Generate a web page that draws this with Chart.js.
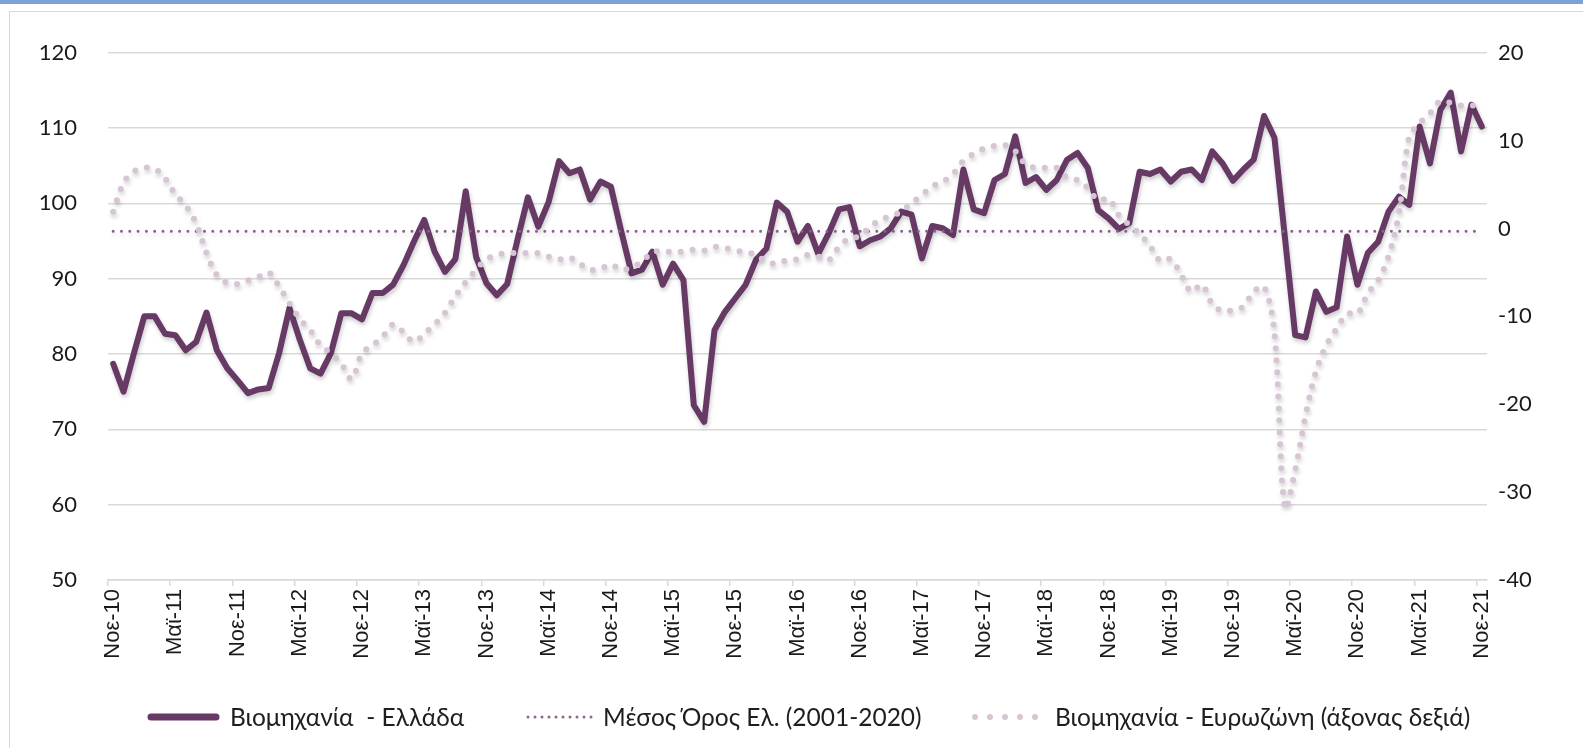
<!DOCTYPE html>
<html lang="el">
<head>
<meta charset="utf-8">
<title>Βιομηχανία - Ελλάδα / Ευρωζώνη</title>
<script src="https://cdn.jsdelivr.net/npm/chart.js@4.4.1/dist/chart.umd.min.js"></script>
<style>
  html, body { margin: 0; padding: 0; background: #fff; overflow: hidden; }
  body { width: 1583px; height: 748px; position: relative; }
  .band { position: absolute; left: 0; top: 0; width: 1583px; height: 4px; background: #7ea1dc; }
  .frame { position: absolute; left: 9px; top: 11px; width: 1600px; height: 760px;
           border: 1.5px solid #d9d9d9; box-sizing: border-box; }
  #chart { position: absolute; left: 0; top: 0; }
  .lg-sample { position: absolute; top: 711px; }
  .lg-text { position: absolute; top: 702px; font-family: Lato, "Open Sans", sans-serif;
             font-size: 24.5px; line-height: 30px; color: #1e1e1e; white-space: pre; }
</style>
</head>
<body>
<div class="band"></div>
<div class="frame"></div>
<canvas id="chart" width="1583" height="748"></canvas>

<svg class="lg-sample" style="left:146px" width="76" height="12">
  <line x1="5" y1="6" x2="70" y2="6" stroke="#673965" stroke-width="7" stroke-linecap="round"/>
</svg>
<div class="lg-text" style="left:230px">Βιομηχανία  - Ελλάδα</div>

<svg class="lg-sample" style="left:524px" width="76" height="12">
  <line x1="4" y1="6" x2="72" y2="6" stroke="#8a6a8a" stroke-width="3" stroke-linecap="round" stroke-dasharray="0 7"/>
</svg>
<div class="lg-text" style="left:603px">Μέσος Όρος Ελ. (2001-2020)</div>

<svg class="lg-sample" style="left:970px" width="72" height="12">
  <line x1="5" y1="6" x2="66" y2="6" stroke="#d6c5d4" stroke-width="6" stroke-linecap="round" stroke-dasharray="0 15"/>
</svg>
<div class="lg-text" style="left:1055px">Βιομηχανία - Ευρωζώνη (άξονας δεξιά)</div>

<script>
// Μήνες (Νοε-10 έως Νοε-21, μηνιαία)
const MONTH_NAMES = ["Ιαν", "Φεβ", "Μαρ", "Απρ", "Μαϊ", "Ιουν", "Ιουλ", "Αυγ", "Σεπ", "Οκτ", "Νοε", "Δεκ"];
const FIRST_MONTH = 10; // Νοέμβριος
const FIRST_YEAR = 10;  // 2010
const N_MONTHS = 133;

// Βιομηχανία - Ελλάδα (αριστερός άξονας)
const greece = [
  78.7, 75.0, 80.1, 85.0, 85.0, 82.7, 82.5, 80.5, 81.6, 85.5,
  80.5, 78.1, 76.5, 74.8, 75.3, 75.5, 80.1, 86.1, 81.9, 78.1,
  77.4, 80.1, 85.4, 85.4, 84.6, 88.1, 88.1, 89.2, 91.8, 94.9,
  97.8, 93.6, 90.9, 92.6, 101.6, 92.9, 89.4, 87.8, 89.3, 95.2,
  100.8, 96.9, 100.2, 105.6, 104.0, 104.5, 100.5, 102.9, 102.2, 96.3,
  90.7, 91.2, 93.6, 89.2, 92.0, 89.8, 73.2, 71.0, 83.2, 85.6,
  87.4, 89.2, 92.5, 94.0, 100.1, 98.9, 94.9, 97.0, 93.3, 96.0,
  99.2, 99.5, 94.3, 95.1, 95.6, 96.7, 98.9, 98.5, 92.7, 97.0,
  96.7, 95.8, 104.5, 99.2, 98.7, 103.1, 103.9, 108.9, 102.7, 103.5,
  101.8, 103.1, 105.8, 106.7, 104.7, 99.1, 98.0, 96.6, 97.4, 104.2,
  103.9, 104.5, 102.9, 104.2, 104.5, 103.1, 106.9, 105.3, 103.0, 104.5,
  105.8, 111.6, 108.7, 95.6, 82.5, 82.2, 88.3, 85.6, 86.2, 95.6,
  89.2, 93.4, 94.9, 98.9, 100.9, 99.8, 110.2, 105.3, 112.4, 114.7,
  106.9, 113.1, 110.2
];

// Μέσος Όρος Ελ. (2001-2020)
const greeceMean = 96.3;

// Βιομηχανία - Ευρωζώνη (δεξιός άξονας)
const eurozone = [
  1.9, 5.2, 6.5, 6.9, 6.8, 5.7, 3.9, 2.6, 0.6, -2.8,
  -5.3, -6.2, -6.3, -5.9, -5.5, -5.0, -6.6, -8.5, -10.3, -11.6,
  -13.3, -14.2, -15.4, -17.1, -14.2, -13.3, -12.3, -10.9, -11.8, -12.9,
  -12.0, -10.9, -9.6, -7.7, -6.1, -4.7, -3.5, -3.0, -2.8, -2.8,
  -2.8, -2.8, -3.2, -3.5, -3.3, -4.0, -4.7, -4.6, -4.1, -4.7,
  -4.4, -3.8, -2.7, -2.6, -2.7, -2.6, -2.4, -2.5, -2.1, -2.2,
  -2.5, -2.7, -3.0, -3.8, -4.0, -3.6, -3.5, -3.0, -3.2, -3.6,
  -2.1, -1.1, -0.9, 0.2, 1.0, 1.4, 1.9, 2.9, 3.8, 4.8,
  5.3, 6.2, 7.7, 8.5, 9.1, 9.4, 9.5, 8.8, 7.3, 6.9,
  6.9, 6.9, 5.8, 5.5, 4.6, 3.2, 3.4, 1.5, 0.4, -0.6,
  -2.0, -3.7, -3.5, -5.3, -7.2, -6.4, -8.6, -9.4, -9.3, -8.9,
  -7.2, -6.6, -11.9, -31.8, -27.5, -21.3, -16.3, -13.3, -11.4, -9.7,
  -9.7, -7.4, -5.9, -3.2, 1.7, 10.4, 12.0, 13.1, 14.5, 14.3,
  14.0, 14.0, 13.9
];

// Άξονες
const LEFT_MIN = 50, LEFT_MAX = 120;
const RIGHT_MIN = -40, RIGHT_MAX = 20;
const LABEL_EVERY = 6;

const labels = [];
for (let i = 0; i < N_MONTHS; i++) {
  const m = (FIRST_MONTH + i) % 12;
  const y = FIRST_YEAR + Math.floor((FIRST_MONTH + i) / 12);
  labels.push(MONTH_NAMES[m] + "-" + y);
}

const GRID = "#d9d9d9";
const TEXT = "#1a1a1a";

// σκιά κάτω από τις γραμμές, όπως στο Excel
const shadowPlugin = {
  id: "lineShadow",
  beforeDatasetDraw(chart) {
    const ctx = chart.ctx;
    ctx.save();
    ctx.shadowColor = "rgba(0, 0, 0, 0.2)";
    ctx.shadowBlur = 4;
    ctx.shadowOffsetX = 1;
    ctx.shadowOffsetY = 3;
  },
  afterDatasetDraw(chart) {
    chart.ctx.restore();
  },
};

new Chart(document.getElementById("chart"), {
  type: "line",
  data: {
    labels: labels,
    datasets: [
      {
        label: "Βιομηχανία - Ευρωζώνη (άξονας δεξιά)",
        data: eurozone,
        yAxisID: "y2",
        borderColor: "#d6c5d4",
        borderWidth: 6,
        borderDash: [0, 12],
        borderCapStyle: "round",
        tension: 0.35,
        pointRadius: 0,
        order: 0,
      },
      {
        label: "Μέσος Όρος Ελ. (2001-2020)",
        data: labels.map(() => greeceMean),
        yAxisID: "y",
        borderColor: "#86628a",
        borderWidth: 3,
        borderDash: [0, 8.3],
        borderCapStyle: "round",
        pointRadius: 0,
        order: 1,
      },
      {
        label: "Βιομηχανία  - Ελλάδα",
        data: greece,
        yAxisID: "y",
        borderColor: "#673965",
        borderWidth: 6,
        borderJoinStyle: "round",
        borderCapStyle: "round",
        tension: 0,
        pointRadius: 0,
        order: 2,
      },
    ],
  },
  options: {
    responsive: false,
    animation: false,
    devicePixelRatio: 1,
    layout: { padding: { top: 52.7, left: 0, right: 0, bottom: 0 } },
    plugins: {
      legend: { display: false },
      tooltip: { enabled: false },
    },
    scales: {
      x: {
        type: "category",
        offset: true,
        grid: {
          offset: true,
          drawOnChartArea: false,
          drawTicks: true,
          tickLength: 6,
          lineWidth: 1.5,
          color: (c) => (c.index % LABEL_EVERY === 0 ? GRID : "rgba(0,0,0,0)"),
        },
        border: { color: GRID, width: 1.5 },
        ticks: {
          autoSkip: false,
          minRotation: 90,
          maxRotation: 90,
          padding: 3,
          color: TEXT,
          font: { family: "Liberation Sans", size: 22 },
          callback: function (value, index) {
            return index % LABEL_EVERY === 0 ? this.getLabelForValue(value) : "";
          },
        },
        afterFit: (s) => { s.height = 168; },
      },
      y: {
        position: "left",
        min: LEFT_MIN,
        max: LEFT_MAX,
        ticks: {
          stepSize: 10,
          padding: 31,
          color: TEXT,
          font: { family: "Lato", size: 22 },
        },
        grid: { color: GRID, lineWidth: 1.5, drawTicks: false },
        border: { display: false },
        afterFit: (s) => { s.width = 108; },
      },
      y2: {
        position: "right",
        min: RIGHT_MIN,
        max: RIGHT_MAX,
        ticks: {
          stepSize: 10,
          padding: 11,
          color: TEXT,
          font: { family: "Lato", size: 22 },
        },
        grid: { display: false, drawTicks: false },
        border: { display: false },
        afterFit: (s) => { s.width = 96; },
      },
    },
  },
  plugins: [shadowPlugin],
});
</script>
</body>
</html>
